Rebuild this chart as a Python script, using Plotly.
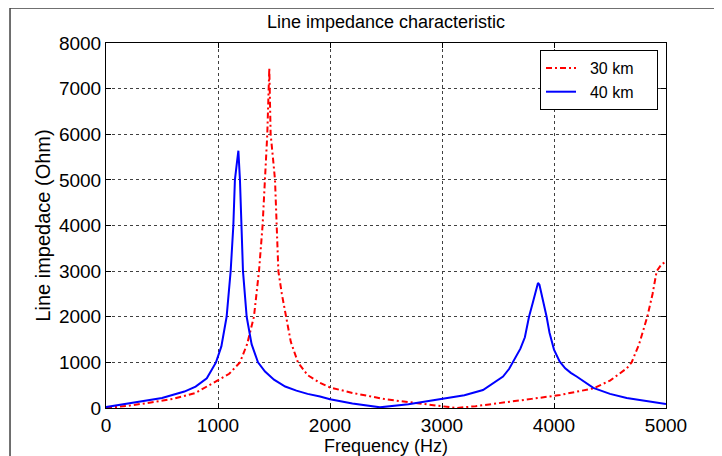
import plotly.graph_objects as go

# 40 km line (blue)
freq_40 = [0, 100, 200, 300, 400, 500, 600, 700, 800, 900, 982, 1030, 1077, 1113, 1137, 1151, 1170, 1182,
           1196, 1210, 1223, 1256, 1300, 1357, 1420, 1500, 1600, 1700, 1800, 1911, 2000, 2200, 2446, 2700,
           3000, 3200, 3366, 3545, 3600, 3631, 3700, 3740, 3777, 3810, 3830, 3845, 3857, 3870, 3890, 3910,
           3934, 3960, 4000, 4050, 4100, 4150, 4202, 4351, 4500, 4649, 4800, 5000]
imp_40 = [20, 60, 100, 140, 180, 220, 290, 360, 470, 650, 1000, 1350, 2000, 3000, 4000, 5000, 5400, 5640,
          5000, 4000, 3000, 2000, 1400, 1000, 800, 620, 470, 380, 310, 250, 190, 100, 15, 80,
          190, 280, 395, 690, 860, 1000, 1300, 1550, 2000, 2300, 2500, 2650, 2740, 2700, 2500, 2250,
          2000, 1650, 1280, 1020, 870, 770, 690, 440, 310, 220, 160, 90]

# 30 km line (red)
freq_30 = [0, 200, 400, 600, 800, 1000, 1100, 1196, 1260, 1321, 1366, 1398, 1420, 1440, 1458, 1470, 1490,
           1509, 1524, 1539, 1570, 1605, 1650, 1714, 1800, 1911, 2000, 2200, 2500, 2800, 3000, 3131, 3300,
           3500, 3800, 4054, 4200, 4351, 4500, 4600, 4650, 4693, 4760, 4833, 4880, 4917, 4960, 5000]
imp_30 = [0, 50, 120, 200, 330, 600, 750, 1000, 1400, 2000, 3000, 4000, 5000, 6000, 7450, 6000, 5500,
          5000, 4000, 3000, 2500, 2000, 1450, 1000, 720, 550, 450, 330, 190, 100, 30, 0, 40,
          100, 200, 285, 350, 430, 600, 780, 870, 1000, 1400, 2000, 2500, 3000, 3150, 3210]

x_ticks = [0, 1000, 2000, 3000, 4000, 5000]
y_ticks = [0, 1000, 2000, 3000, 4000, 5000, 6000, 7000, 8000]
series_names = ["30 km", "40 km"]

FONT = "Arial, Liberation Sans, sans-serif"
OFF = 8  # page body margin offset
PAD_L = "\u00a0\u00a0"
PAD_R = "\u00a0\u00a0\u00a0\u00a0"

fig = go.Figure()
fig.add_trace(go.Scatter(x=freq_30, y=imp_30, mode="lines", name=PAD_L + series_names[0] + PAD_R,
                         line=dict(color="#ff0000", width=2, dash="6px,3px,2px,3px")))
fig.add_trace(go.Scatter(x=freq_40, y=imp_40, mode="lines", name=PAD_L + series_names[1] + PAD_R,
                         line=dict(color="#0000ff", width=2)))

axis_common = dict(
    showline=True, linecolor="#000000", linewidth=1, mirror="ticks",
    ticks="inside", ticklen=5, tickcolor="#000000",
    showgrid=True, gridcolor="#404040", gridwidth=1, griddash="3px,3px",
    zeroline=False, automargin=False,
    tickfont=dict(size=19, color="#000000", family=FONT),
)

fig.update_layout(
    width=722, height=456,
    margin=dict(l=106 - OFF, r=722 - (106 - OFF) - 560, t=43 - OFF, b=456 - (43 - OFF) - 365),
    paper_bgcolor="#ffffff", plot_bgcolor="#ffffff",
    font=dict(family=FONT, color="#000000", size=17),
    title=dict(text="Line impedance characteristic", x=(386 - OFF) / 722, xanchor="center",
               y=1 - (22 - OFF) / 456, yanchor="middle", font=dict(size=18), automargin=False),
    xaxis=dict(range=[0, 5000], tickvals=x_ticks, ticktext=[str(v) for v in x_ticks],
               title=dict(text="Frequency (Hz)", standoff=2, font=dict(size=18)), **axis_common),
    yaxis=dict(range=[0, 8000], tickvals=y_ticks, ticktext=[str(v) for v in y_ticks],
               title=dict(text="Line impedace (Ohm)", standoff=2, font=dict(size=20)), **axis_common),
    legend=dict(x=(658 - 106) / 560, y=(408 - 50) / 365, xanchor="right", yanchor="top",
                bgcolor="#ffffff", bordercolor="#000000", borderwidth=1, font=dict(size=16),
                tracegroupgap=0, itemwidth=30),
    showlegend=True,
    shapes=[
        dict(type="line", xref="paper", yref="paper", x0=-0.1714, x1=-0.1714, y0=1.0959, y1=-0.3,
             line=dict(color="#404040", width=1.5)),
        dict(type="line", xref="paper", yref="paper", x0=-0.1714, x1=1.2, y0=1.0959, y1=1.0959,
             line=dict(color="#404040", width=1.5)),
    ],
)

fig.write_html("out.html")
